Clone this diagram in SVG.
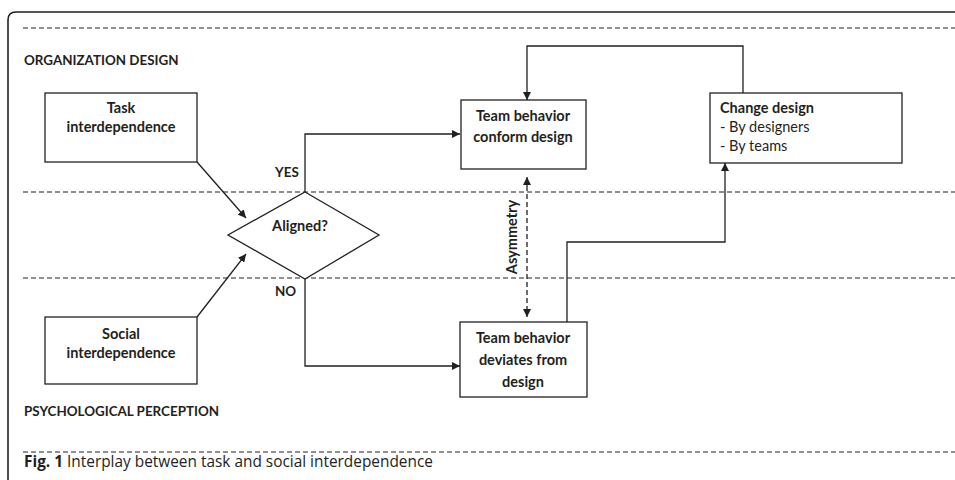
<svg xmlns="http://www.w3.org/2000/svg" width="955" height="480" viewBox="0 0 955 480">
<defs>
<marker id="ah" viewBox="0 0 10 10" refX="10" refY="5" markerWidth="8" markerHeight="8" markerUnits="userSpaceOnUse" orient="auto">
<path d="M0,0 L10,5 L0,10 z" fill="#231f20"/>
</marker>
</defs>
<style>
.frame{fill:none;stroke:#231f20;stroke-width:1.6}
.dash{fill:none;stroke:#231f20;stroke-width:1;stroke-dasharray:5,3}
.box{fill:#fff;stroke:#231f20;stroke-width:1.3}
.line{fill:none;stroke:#231f20;stroke-width:1.3}
.t{font-family:Lato,"Liberation Sans",sans-serif;font-size:14.5px;fill:#231f20}
.b{font-weight:bold}
.c{text-anchor:middle}
.lab{font-family:Lato,"Liberation Sans",sans-serif;font-size:13.4px;font-weight:bold;fill:#231f20}
.cap{font-family:"Open Sans","Noto Sans",sans-serif;font-size:15.4px;fill:#231f20}
</style>
<rect width="955" height="480" fill="#fff"/>
<path class="frame" d="M8,480 V20 Q8,12 16,12 H955"/>
<line class="dash" x1="23" y1="28" x2="955" y2="28"/>
<line class="dash" x1="23" y1="192" x2="955" y2="192"/>
<line class="dash" x1="23" y1="278" x2="955" y2="278"/>
<line class="dash" x1="23" y1="452" x2="955" y2="452"/>
<text class="lab" x="24" y="65">ORGANIZATION DESIGN</text>
<text class="lab" x="24" y="416">PSYCHOLOGICAL PERCEPTION</text>
<text class="cap" x="24" y="467"><tspan font-weight="bold">Fig. 1</tspan> Interplay between task and social interdependence</text>
<g id="connectors">
<line class="line" x1="197" y1="162" x2="246" y2="218" marker-end="url(#ah)"/>
<line class="line" x1="197" y1="317" x2="246" y2="254" marker-end="url(#ah)"/>
<polyline class="line" points="305,192 305,134 460,134" marker-end="url(#ah)"/>
<polyline class="line" points="305,279 305,366 460,366" marker-end="url(#ah)"/>
<polyline class="line" points="743,93 743,46 527,46 527,100" marker-end="url(#ah)"/>
<polyline class="line" points="567,322 567,242 725,242 725,163" marker-end="url(#ah)"/>
<line class="line" x1="527" y1="186" x2="527" y2="177" marker-end="url(#ah)"/>
<line class="line" x1="527" y1="308" x2="527" y2="317" marker-end="url(#ah)"/>
<line class="line" x1="527" y1="186" x2="527" y2="308" stroke-dasharray="5,3"/>
<text class="t b" x="517" y="237" text-anchor="middle" transform="rotate(-90 517 237)">Asymmetry</text>
<text class="lab" x="275" y="177">YES</text>
<text class="lab" x="275" y="296">NO</text>
</g>
<g id="task">
<rect class="box" x="45" y="93" width="152" height="69"/>
<text class="t b c" x="121" y="113">Task</text>
<text class="t b c" x="121" y="132">interdependence</text>
</g>
<g id="social">
<rect class="box" x="45" y="317" width="152" height="67"/>
<text class="t b c" x="121" y="339">Social</text>
<text class="t b c" x="121" y="358">interdependence</text>
</g>
<g id="aligned">
<polygon class="box" points="305,192 379,235 305,279 228,235"/>
<text class="t b c" x="300" y="231">Aligned?</text>
</g>
<g id="conform">
<rect class="box" x="461" y="100" width="125" height="69"/>
<text class="t b c" x="523" y="121">Team behavior</text>
<text class="t b c" x="523" y="142">conform design</text>
</g>
<g id="deviates">
<rect class="box" x="460" y="322" width="127" height="75"/>
<text class="t b c" x="523" y="343">Team behavior</text>
<text class="t b c" x="523" y="365">deviates from</text>
<text class="t b c" x="523" y="387">design</text>
</g>
<g id="change">
<rect class="box" x="710" y="93" width="192" height="70"/>
<text class="t b" x="720" y="113">Change design</text>
<text class="t" x="720" y="132">- By designers</text>
<text class="t" x="720" y="151">- By teams</text>
</g>
</svg>
